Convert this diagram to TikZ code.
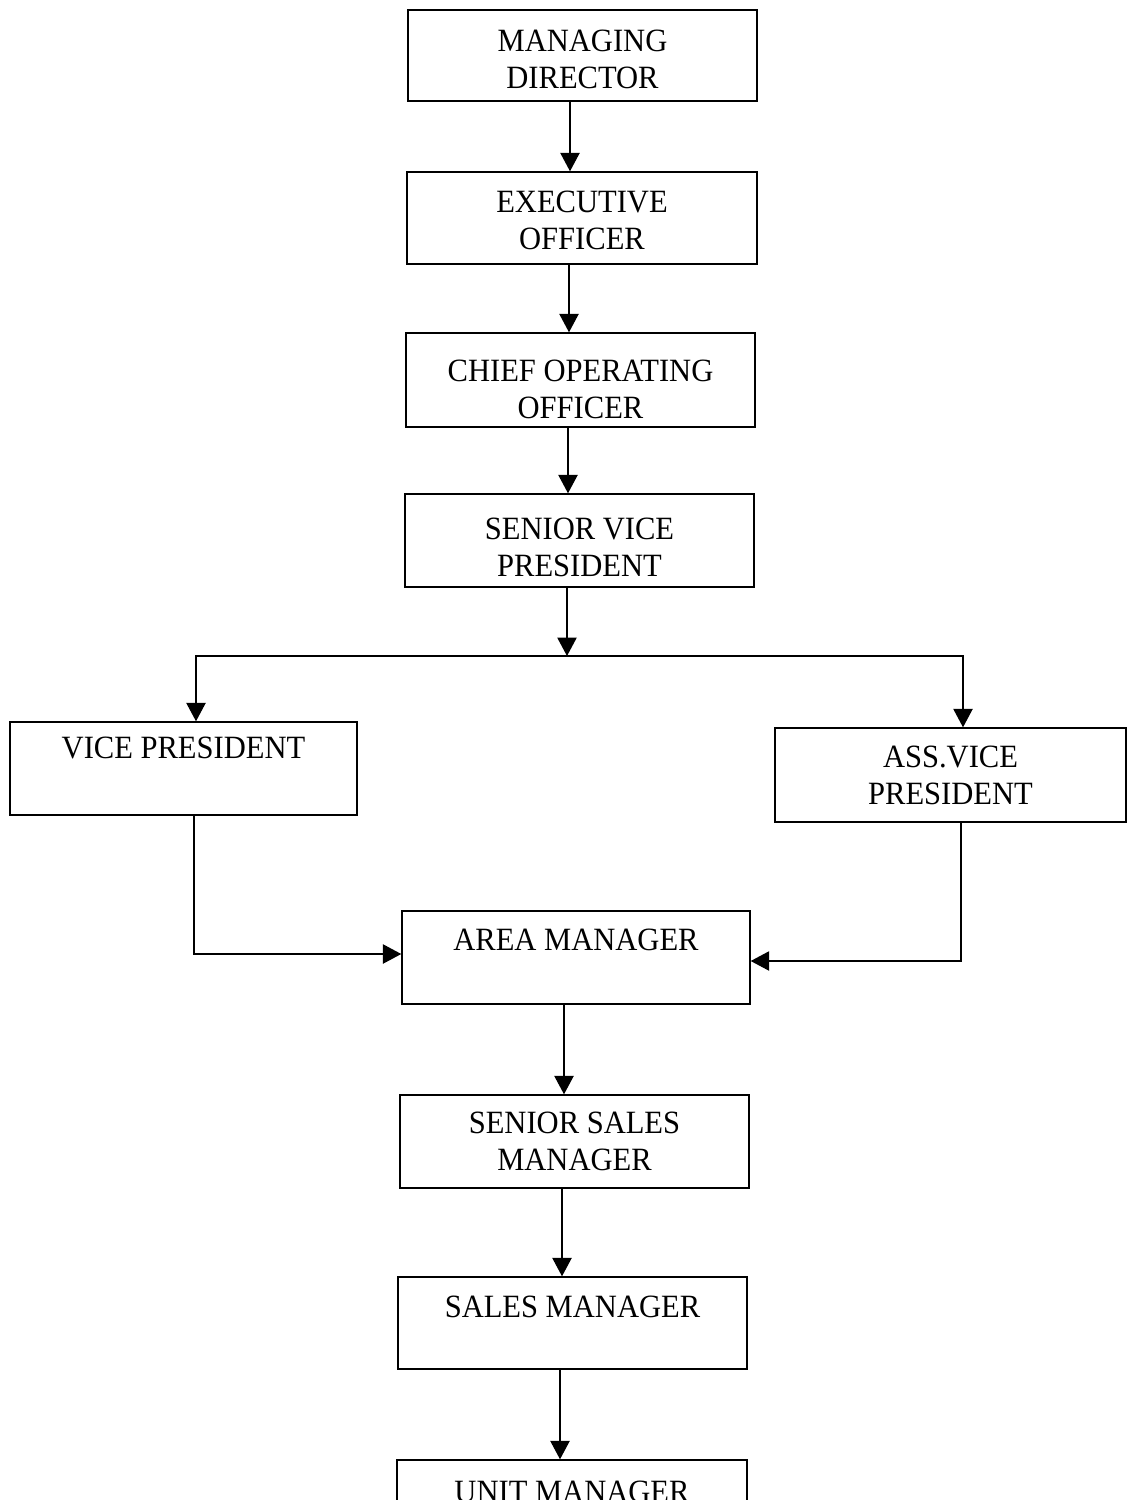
\documentclass[tikz,border=0pt]{standalone}
\usepackage{fontspec}
\setmainfont[FakeStretch=0.94]{Liberation Serif}
\usetikzlibrary{arrows.meta}
\begin{document}
\begin{tikzpicture}[x=0.02cm,y=-0.02cm,
  box/.style 2 args={draw, line width=0.8pt, minimum width=#1*0.02cm, minimum height=#2*0.02cm, inner sep=0pt},
  lbl/.style={anchor=north, inner sep=0pt, align=center, font=\fontsize{18.5}{20.7}\selectfont},
  arr/.style={line width=0.8pt, -{Triangle[width=11pt,length=10.5pt]}},
  ln/.style={line width=0.8pt}]
\clip (0,0) rectangle (1134,1500);
\fill[white] (0,0) rectangle (1134,1500);

% boxes
\node[box={349}{91}] (md)  at (582.5,55.5) {};
\node[box={350}{92}] (eo)  at (582,218) {};
\node[box={349}{94}] (coo) at (580.5,380) {};
\node[box={349}{93}] (svp) at (579.5,540.5) {};
\node[box={347}{93}] (vp)  at (183.5,768.5) {};
\node[box={351}{94}] (avp) at (950.5,775) {};
\node[box={348}{93}] (am)  at (576,957.5) {};
\node[box={349}{93}] (ssm) at (574.5,1141.5) {};
\node[box={349}{92}] (sm)  at (572.5,1323) {};
\node[box={350}{92}] (um)  at (572,1506) {};

% labels
\node[lbl] (mdt)  at (582.5,30) {MANAGING\\DIRECTOR};
\node[lbl] (eot)  at (582,191) {EXECUTIVE\\OFFICER};
\node[lbl] (coot) at (580.5,360) {CHIEF OPERATING\\OFFICER};
\node[lbl] (svpt) at (579.5,518) {SENIOR VICE\\PRESIDENT};
\node[lbl] (vpt)  at (183.5,737) {VICE PRESIDENT};
\node[lbl] (avpt) at (950.5,746) {ASS.VICE\\PRESIDENT};
\node[lbl] (amt)  at (576,929) {AREA MANAGER};
\node[lbl] (ssmt) at (574.5,1112) {SENIOR SALES\\MANAGER};
\node[lbl] (smt)  at (572.5,1296) {SALES MANAGER};
\node[lbl] (umt)  at (572,1481) {UNIT MANAGER};

% connector columns
\coordinate (x1) at (570,0);
\coordinate (x2) at (569,0);
\coordinate (x3) at (568,0);
\coordinate (jn) at (567,656);
\coordinate (xl) at (196,0);
\coordinate (xr) at (963,0);
\coordinate (vpx) at (194,0);
\coordinate (avx) at (961,0);
\coordinate (yl) at (0,954);
\coordinate (yr) at (0,961);
\coordinate (x4) at (564,0);
\coordinate (x5) at (562,0);
\coordinate (x6) at (560,0);

\draw[arr] (md.south -| x1) -- (eo.north -| x1);
\draw[arr] (eo.south -| x2) -- (coo.north -| x2);
\draw[arr] (coo.south -| x3) -- (svp.north -| x3);
\draw[arr] (svp.south -| jn) -- (jn);
\draw[arr] (jn) -| (vp.north -| xl);
\draw[arr] (jn) -| (avp.north -| xr);
\draw[arr] (vp.south -| vpx) |- (am.west |- yl);
\draw[arr] (avp.south -| avx) |- (am.east |- yr);
\draw[arr] (am.south -| x4) -- (ssm.north -| x4);
\draw[arr] (ssm.south -| x5) -- (sm.north -| x5);
\draw[arr] (sm.south -| x6) -- (um.north -| x6);
\end{tikzpicture}
\end{document}
